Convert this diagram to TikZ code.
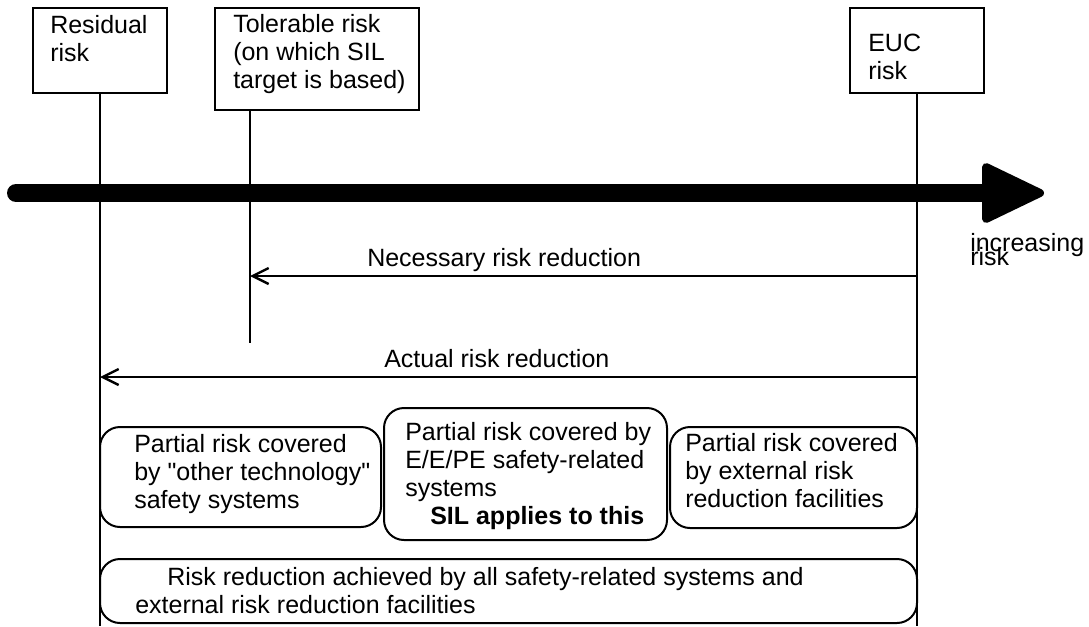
\documentclass[tikz,border=0pt]{standalone}
\usepackage{fontspec}
\setmainfont{Liberation Sans}
\usetikzlibrary{arrows.meta}
\newcommand\tstr{\rule{0pt}{18pt}}
\begin{document}
\begin{tikzpicture}[x=0.75pt,y=-0.75pt,
  txt/.style={inner sep=0pt, anchor=north west, align=left, font=\fontsize{18.75}{21}\selectfont},
  sqbox/.style={draw, line width=1.5pt, inner sep=0pt},
  rbox/.style={draw, line width=1.5pt, inner sep=0pt, rounded corners=15pt},
  thin/.style={line width=1.5pt},
  redarrow/.style={line width=1.5pt, -{Straight Barb[length=12pt,width=12pt,line width=1.8pt]}}
]
\useasboundingbox (0,0) rectangle (1089,626);

% top boxes
\node[sqbox, minimum width=134*0.75pt, minimum height=85*0.75pt] (resbox) at (100,50.5) {};
\node[sqbox, minimum width=204*0.75pt, minimum height=102*0.75pt] (tolbox) at (317,59) {};
\node[sqbox, minimum width=134*0.75pt, minimum height=85*0.75pt] (eucbox) at (917,50.5) {};

\node[txt] (restxt) at (50,9) {\tstr Residual\\risk};
\node[txt] (toltxt) at (233,8) {\tstr Tolerable risk\\(on which SIL\\target is based)};
\node[txt] (euctxt) at (868,27) {\tstr EUC\\risk};

% vertical lines
\coordinate (resbot) at (100,626);
\coordinate (tolbot) at (250,343);
\coordinate (eucbot) at (917,626);

% thick arrow
\coordinate (axstart) at (16,193);
\coordinate (axend) at (990,193);
\draw[line width=13.5pt, line cap=round] (axstart) -- (axend);
\coordinate (tipa) at (986,167);
\coordinate (tipb) at (986,219);
\coordinate (tipc) at (1040,193);
\filldraw[line width=6pt, line join=round] (tipa) -- (tipc) -- (tipb) -- cycle;

\draw[thin] (resbox.south) -- (resbot);
\draw[thin] (tolbox.south west -| tolbot) -- (tolbot);
\draw[thin] (eucbox.south) -- (eucbot);

\node[txt, font={\fontsize{18.75}{10.5}\selectfont\lineskiplimit=-100pt}] (inctxt) at (970,227) {\tstr increasing\\risk};

% reduction arrows
\coordinate (nrs) at (917,276);
\coordinate (nre) at (250,276);
\draw[redarrow] (nrs) -- (nre);
\node[inner sep=0pt, anchor=base west, font=\fontsize{18.75}{21}\selectfont] (nrtxt) at (367,266) {Necessary risk reduction};

\coordinate (ars) at (917,377);
\coordinate (are) at (100,377);
\draw[redarrow] (ars) -- (are);
\node[inner sep=0pt, anchor=base west, font=\fontsize{18.75}{21}\selectfont] (artxt) at (384,367) {Actual risk reduction};

% rounded boxes
\node[rbox, minimum width=281*0.75pt, minimum height=100*0.75pt] (p1) at (240.5,477) {};
\node[rbox, minimum width=283*0.75pt, minimum height=132*0.75pt] (p2) at (525.5,474) {};
\node[rbox, minimum width=247*0.75pt, minimum height=101*0.75pt] (p3) at (793.5,477.5) {};
\node[rbox, minimum width=817*0.75pt, minimum height=64*0.75pt] (p4) at (508.5,591) {};

\node[txt] (p1txt) at (134,428) {\tstr Partial risk covered\\by \textquotedbl other technology\textquotedbl\\safety systems};
\node[txt] (p2txt) at (405,416) {\tstr Partial risk covered by\\E/E/PE safety-related\\systems\\\hspace*{18.75pt}\textbf{SIL applies to this}};
\node[txt] (p3txt) at (685,427) {\tstr Partial risk covered\\by external risk\\reduction facilities};
\node[txt] (p4txt) at (135,561) {\tstr\hspace*{24pt}Risk reduction achieved by all safety-related systems and\\external risk reduction facilities};
\end{tikzpicture}
\end{document}
